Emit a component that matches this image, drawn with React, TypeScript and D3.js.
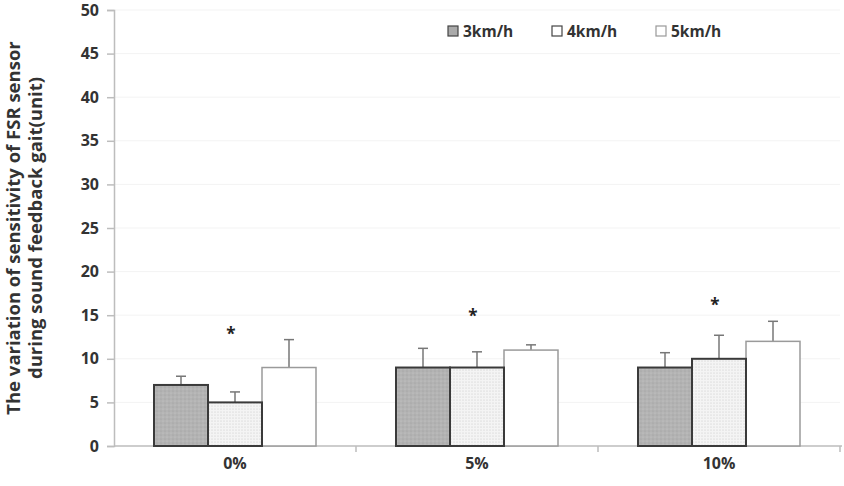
import { useEffect, useRef } from 'react';
import * as d3 from 'd3';

const categories = ['0%', '5%', '10%'];
const speeds = ['3km/h', '4km/h', '5km/h'];
const means = [
  [7, 5, 9],
  [9, 9, 11],
  [9, 10, 12],
];
const errors = [
  [1, 1.2, 3.2],
  [2.2, 1.8, 0.6],
  [1.7, 2.7, 2.3],
];
const starValues = [13, 15, 16.3];
const yTicks = [0, 5, 10, 15, 20, 25, 30, 35, 40, 45, 50];

const FONT = "'Open Sans', 'Noto Sans', sans-serif";

export default function App() {
  const ref = useRef<SVGSVGElement>(null);

  useEffect(() => {
    if (!ref.current) return;
    const svg = d3.select(ref.current);
    svg.selectAll('*').remove();

    const left = 114, right = 840, top = 10, bottom = 446;

    const x = d3.scaleBand().domain(categories).range([left, right]);
    const xi = d3.scaleBand().domain(speeds).range([0, 162]);
    const y = d3.scaleLinear().domain([0, 50]).range([bottom, top]);

    // patterns
    const defs = svg.append('defs');
    const p1 = defs.append('pattern')
      .attr('id', 'gray').attr('width', 4).attr('height', 4)
      .attr('patternUnits', 'userSpaceOnUse');
    p1.append('rect').attr('width', 4).attr('height', 4).attr('fill', '#b3b3b3');
    p1.append('circle').attr('cx', 1).attr('cy', 1).attr('r', 0.6).attr('fill', '#cacaca');
    p1.append('circle').attr('cx', 3).attr('cy', 3).attr('r', 0.6).attr('fill', '#9c9c9c');
    const p2 = defs.append('pattern')
      .attr('id', 'dots').attr('width', 3).attr('height', 3)
      .attr('patternUnits', 'userSpaceOnUse');
    p2.append('rect').attr('width', 3).attr('height', 3).attr('fill', '#f4f4f4');
    p2.append('circle').attr('cx', 1).attr('cy', 1).attr('r', 0.55).attr('fill', '#c4c4c4');

    const fills = ['url(#gray)', 'url(#dots)', '#ffffff'];
    const strokes = ['#3a3a3a', '#3a3a3a', '#9a9a9a'];

    // gridlines
    svg.append('g')
      .selectAll('line')
      .data(yTicks.slice(1))
      .enter()
      .append('line')
      .attr('x1', left).attr('x2', right)
      .attr('y1', d => y(d)).attr('y2', d => y(d))
      .attr('stroke', '#f3f3f3').attr('stroke-width', 1);

    // y axis
    const yAxis = svg.append('g')
      .attr('transform', `translate(${left},0)`)
      .call(d3.axisLeft(y).tickValues(yTicks).tickSize(7).tickPadding(8));
    yAxis.select('.domain').attr('stroke', '#bdbdbd').attr('stroke-width', 1.5);
    yAxis.selectAll('.tick line').attr('stroke', '#bdbdbd').attr('stroke-width', 1.5);
    yAxis.selectAll('.tick text')
      .attr('font-family', FONT).attr('font-size', 16).attr('font-weight', 'bold')
      .attr('fill', '#333');

    // x axis
    const xAxisG = svg.append('g').attr('transform', `translate(0,${bottom})`);
    xAxisG.append('line')
      .attr('x1', left).attr('x2', right + 2)
      .attr('stroke', '#bdbdbd').attr('stroke-width', 1.5);
    xAxisG.selectAll('line.tk')
      .data(categories.slice(1).concat(['end']))
      .enter()
      .append('line')
      .attr('class', 'tk')
      .attr('x1', (d, i) => left + x.step() * (i + 1))
      .attr('x2', (d, i) => left + x.step() * (i + 1))
      .attr('y1', 0).attr('y2', 6)
      .attr('stroke', '#bdbdbd').attr('stroke-width', 1.5);
    xAxisG.selectAll('text')
      .data(categories)
      .enter()
      .append('text')
      .attr('x', d => (x(d) || 0) + x.bandwidth() / 2)
      .attr('y', 23)
      .attr('text-anchor', 'middle')
      .attr('font-family', FONT).attr('font-size', 16).attr('font-weight', 'bold')
      .attr('fill', '#333')
      .text(d => d);

    // bars
    categories.forEach((cat, ci) => {
      const g = svg.append('g')
        .attr('transform', `translate(${(x(cat) || 0) + x.bandwidth() / 2 - 81},0)`);
      // error bars
      speeds.forEach((s, si) => {
        const cx = (xi(s) || 0) + xi.bandwidth() / 2;
        const v = means[ci][si];
        const e = errors[ci][si];
        g.append('line')
          .attr('x1', cx).attr('x2', cx)
          .attr('y1', y(v)).attr('y2', y(v + e))
          .attr('stroke', '#777').attr('stroke-width', 1.5);
        g.append('line')
          .attr('x1', cx - 5).attr('x2', cx + 5)
          .attr('y1', y(v + e)).attr('y2', y(v + e))
          .attr('stroke', '#777').attr('stroke-width', 1.5);
      });
      // draw white bar first so dark borders sit on top
      [2, 1, 0].forEach(si => {
        const s = speeds[si];
        const v = means[ci][si];
        g.append('rect')
          .attr('x', xi(s) || 0)
          .attr('y', y(v))
          .attr('width', xi.bandwidth())
          .attr('height', bottom - y(v))
          .attr('fill', fills[si])
          .attr('stroke', strokes[si])
          .attr('stroke-width', si === 2 ? 1.5 : 2);
      });
      // significance star
      g.append('text')
        .attr('x', (xi(speeds[1]) || 0) + xi.bandwidth() / 2 - 4)
        .attr('y', y(starValues[ci]) + 7)
        .attr('text-anchor', 'middle')
        .attr('font-family', FONT).attr('font-size', 17).attr('font-weight', 'bold')
        .attr('fill', '#222')
        .text('*');
    });

    // legend
    const legendX = [448, 552, 656];
    speeds.forEach((s, si) => {
      const lg = svg.append('g').attr('transform', `translate(${legendX[si]},26)`);
      lg.append('rect')
        .attr('width', 10).attr('height', 10)
        .attr('fill', si === 0 ? '#aaaaaa' : '#ffffff')
        .attr('stroke', si === 2 ? '#999' : '#444')
        .attr('stroke-width', 1.2);
      lg.append('text')
        .attr('x', 15).attr('y', 10.5)
        .attr('font-family', FONT).attr('font-size', 15.5).attr('font-weight', 'bold')
        .attr('fill', '#333')
        .text(s);
    });

    // y label
    const yl = svg.append('text')
      .attr('transform', `translate(0,${(top + bottom) / 2}) rotate(-90)`)
      .attr('text-anchor', 'middle')
      .attr('font-family', FONT).attr('font-size', 18.5).attr('font-weight', 'bold')
      .attr('fill', '#333');
    yl.append('tspan').attr('x', 0).attr('y', 20).text('The variation of sensitivity of FSR sensor');
    yl.append('tspan').attr('x', 0).attr('y', 42).text('during sound feedback gait(unit)');
  }, []);

  return (
    <svg
      ref={ref}
      width={844}
      height={486}
      style={{ position: 'absolute', left: 0, top: 0, background: '#fff' }}
    />
  );
}
